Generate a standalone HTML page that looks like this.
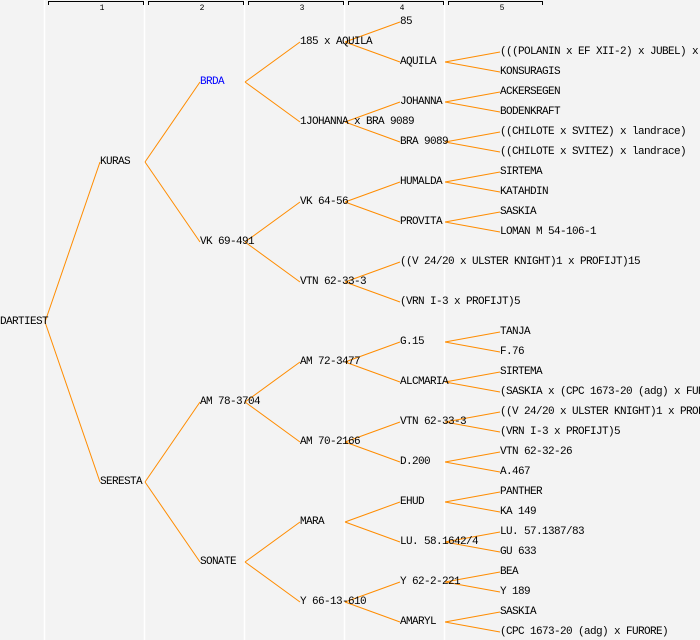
<!DOCTYPE html>
<html><head><meta charset="utf-8"><style>
html,body{margin:0;padding:0;background:#f3f3f3;}
svg{display:block}
text{font-family:"Liberation Mono","DejaVu Sans Mono",monospace;font-size:11px;letter-spacing:-0.6px;fill:#000;}
.h{font-size:8px;letter-spacing:0;text-anchor:middle}
</style></head><body>
<svg width="700" height="640" xmlns="http://www.w3.org/2000/svg">
<rect width="700" height="640" fill="#f3f3f3"/>
<g stroke="#ffffff" stroke-width="1.5">
<line x1="44.5" y1="0" x2="44.5" y2="640"/><line x1="144.5" y1="0" x2="144.5" y2="640"/>
<line x1="244.5" y1="0" x2="244.5" y2="640"/><line x1="344.5" y1="0" x2="344.5" y2="640"/>
<line x1="444.5" y1="0" x2="444.5" y2="640"/>
</g>
<g stroke="#000" fill="none" stroke-width="1">
<path d="M48.5 5V1.5H143.5V5"/><path d="M148.5 5V1.5H243.5V5"/><path d="M248.5 5V1.5H343.5V5"/><path d="M348.5 5V1.5H443.5V5"/><path d="M448.5 5V1.5H542.5V5"/>
</g>
<text class="h" x="102" y="10">1</text><text class="h" x="202" y="10">2</text><text class="h" x="302" y="10">3</text><text class="h" x="402" y="10">4</text><text class="h" x="502" y="10">5</text>
<g stroke="#ff8c00" stroke-width="1" fill="none">
<path d="M45 322L100 162M45 322L100 482"/>
<path d="M145 162L200 82M145 162L200 242M145 482L200 402M145 482L200 562"/>
<path d="M245 82L300 42M245 82L300 122M245 242L300 202M245 242L300 282M245 402L300 362M245 402L300 442M245 562L300 522M245 562L300 602"/>
<path d="M345 42L400 22M345 42L400 62M345 122L400 102M345 122L400 142M345 202L400 182M345 202L400 222M345 282L400 262M345 282L400 302M345 362L400 342M345 362L400 382M345 442L400 422M345 442L400 462M345 522L400 502M345 522L400 542M345 602L400 582M345 602L400 622"/>
<path d="M445 62L500 52M445 62L500 72M445 102L500 92M445 102L500 112M445 142L500 132M445 142L500 152M445 182L500 172M445 182L500 192M445 222L500 212M445 222L500 232M445 342L500 332M445 342L500 352M445 382L500 372M445 382L500 392M445 422L500 412M445 422L500 432M445 462L500 452M445 462L500 472M445 502L500 492M445 502L500 512M445 542L500 532M445 542L500 552M445 582L500 572M445 582L500 592M445 622L500 612M445 622L500 632"/>
</g>
<g dominant-baseline="central">
<text x="0" y="322">DARTIEST</text>
<text x="100" y="162">KURAS</text><text x="100" y="482">SERESTA</text>
<text x="200" y="82" style="fill:#0000ff">BRDA</text><text x="200" y="242">VK 69-491</text><text x="200" y="402">AM 78-3704</text><text x="200" y="562">SONATE</text>
<text x="300" y="42">185 x AQUILA</text><text x="300" y="122">1JOHANNA x BRA 9089</text><text x="300" y="202">VK 64-56</text><text x="300" y="282">VTN 62-33-3</text><text x="300" y="362">AM 72-3477</text><text x="300" y="442">AM 70-2166</text><text x="300" y="522">MARA</text><text x="300" y="602">Y 66-13-610</text>
<text x="400" y="22">85</text><text x="400" y="62">AQUILA</text><text x="400" y="102">JOHANNA</text><text x="400" y="142">BRA 9089</text><text x="400" y="182">HUMALDA</text><text x="400" y="222">PROVITA</text><text x="400" y="262">((V 24/20 x ULSTER KNIGHT)1 x PROFIJT)15</text><text x="400" y="302">(VRN I-3 x PROFIJT)5</text><text x="400" y="342">G.15</text><text x="400" y="382">ALCMARIA</text><text x="400" y="422">VTN 62-33-3</text><text x="400" y="462">D.200</text><text x="400" y="502">EHUD</text><text x="400" y="542">LU. 58.1642/4</text><text x="400" y="582">Y 62-2-221</text><text x="400" y="622">AMARYL</text>
<text x="500" y="52">(((POLANIN x EF XII-2) x JUBEL) x</text><text x="500" y="72">KONSURAGIS</text>
<text x="500" y="92">ACKERSEGEN</text><text x="500" y="112">BODENKRAFT</text>
<text x="500" y="132">((CHILOTE x SVITEZ) x landrace)</text><text x="500" y="152">((CHILOTE x SVITEZ) x landrace)</text>
<text x="500" y="172">SIRTEMA</text><text x="500" y="192">KATAHDIN</text>
<text x="500" y="212">SASKIA</text><text x="500" y="232">LOMAN M 54-106-1</text>
<text x="500" y="332">TANJA</text><text x="500" y="352">F.76</text>
<text x="500" y="372">SIRTEMA</text><text x="500" y="392">(SASKIA x (CPC 1673-20 (adg) x FURORE))</text>
<text x="500" y="412">((V 24/20 x ULSTER KNIGHT)1 x PROFIJT)15</text><text x="500" y="432">(VRN I-3 x PROFIJT)5</text>
<text x="500" y="452">VTN 62-32-26</text><text x="500" y="472">A.467</text>
<text x="500" y="492">PANTHER</text><text x="500" y="512">KA 149</text>
<text x="500" y="532">LU. 57.1387/83</text><text x="500" y="552">GU 633</text>
<text x="500" y="572">BEA</text><text x="500" y="592">Y 189</text>
<text x="500" y="612">SASKIA</text><text x="500" y="632">(CPC 1673-20 (adg) x FURORE)</text>
</g>
</svg>
</body></html>
